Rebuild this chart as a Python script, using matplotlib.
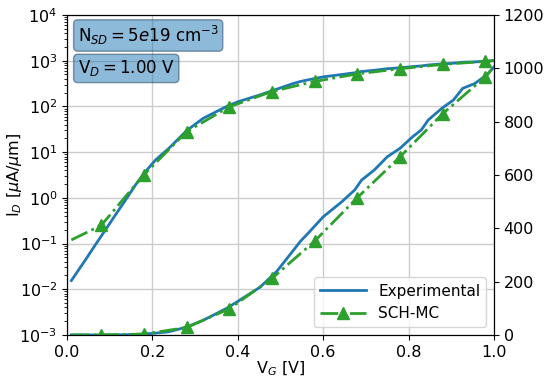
import numpy as np
from matplotlib import pyplot as plt

# Experimental I_D-V_G (uA/um)
v_exp = [0.01, 0.043, 0.066, 0.09, 0.113, 0.137, 0.16, 0.183, 0.207, 0.238,
         0.28, 0.319, 0.374, 0.401, 0.452, 0.491, 0.527, 0.546, 0.565, 0.6,
         0.644, 0.674, 0.69, 0.72, 0.75, 0.78, 0.81, 0.83, 0.846, 0.878,
         0.905, 0.927, 0.955, 0.983, 1.0]
i_exp = [0.0155, 0.044, 0.093, 0.2, 0.42, 0.9, 1.9, 3.7, 6.7, 12.0,
         29.5, 55, 100, 127, 179, 238, 311, 350, 382, 443,
         500, 544, 581, 619, 668, 700, 744, 769, 806, 850,
         881, 925, 943, 975, 1005]

# SCH-MC simulation
v_sim = [0.01, 0.08, 0.18, 0.28, 0.38, 0.48, 0.58, 0.68, 0.78, 0.88, 0.98, 1.0]
i_sim = [0.12, 0.25, 3.2, 28, 98, 212, 352, 515, 668, 830, 968, 1005]

fig = plt.figure(figsize=(5.5, 3.85), dpi=100)
ax = fig.add_axes([0.122, 0.130, 0.776, 0.831])
ax2 = ax.twinx()

blue = "#1f77b4"
green = "#2ca02c"

ax.plot(v_exp, i_exp, color=blue, lw=2)
ax.plot(v_sim, i_sim, color=green, lw=2, ls="-.", marker="^", ms=8,
        markevery=list(range(1, 11)))
ax2.plot(v_exp, i_exp, color=blue, lw=2, label="Experimental")
ax2.plot(v_sim, i_sim, color=green, lw=2, ls="-.", marker="^", ms=8,
         markevery=list(range(1, 11)), label="SCH-MC")

ax.set_yscale("log")
ax.set_ylim(1e-3, 1e4)
ax.set_xlim(0, 1)
ax2.set_ylim(0, 1200)
ax.set_xticks(np.arange(0, 1.01, 0.2))
ax2.set_yticks(np.arange(0, 1201, 200))
ax.grid(True, color="#cccccc", lw=1)

ax.tick_params(labelsize=11.5)
ax2.tick_params(labelsize=11.5)
ax.set_xlabel("V$_G$ [V]", fontsize=11.5, labelpad=0)
ax.set_ylabel(r"I$_D$ [$\mu$A/$\mu$m]", fontsize=11.5)
ax.yaxis.set_label_coords(-0.10, 0.5)

box = dict(boxstyle="round,pad=0.25", facecolor=blue, alpha=0.5, edgecolor="#1a3a5a")
ax.text(0.025, 0.936, r"N$_{SD}$$=5e19$ cm$^{-3}$", transform=ax.transAxes,
        fontsize=12, va="center", ha="left", bbox=box)
ax.text(0.025, 0.833, r"V$_D$$=1.00$ V", transform=ax.transAxes,
        fontsize=12, va="center", ha="left", bbox=box)

ax2.legend(loc="lower right", fontsize=11, framealpha=0.8, handlelength=3)

plt.savefig("out.png", dpi=100)
